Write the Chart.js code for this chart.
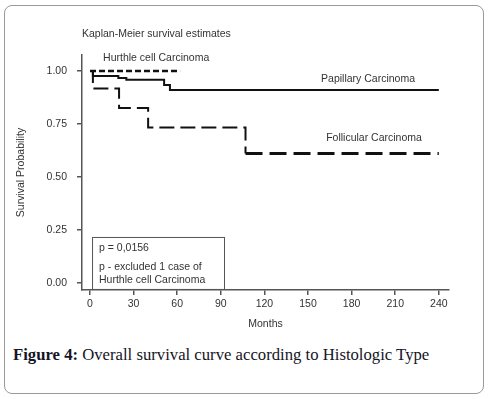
<!DOCTYPE html>
<html>
<head>
<meta charset="utf-8">
<script src="https://cdn.jsdelivr.net/npm/chart.js@4"></script>
<style>
  body { margin: 0; background: #fff; }
  #wrap { position: relative; width: 488px; height: 399px; overflow: hidden; }
  #frame { position: absolute; left: 4px; top: 5px; width: 478px; height: 387px; border: 1px solid #9a9a9a; border-radius: 8px; }
  #chart { position: absolute; left: 0; top: 0; }
  #caption { position: absolute; left: 13px; top: 345px; font: 16.7px "Liberation Serif", "Times New Roman", serif; color: #151525; white-space: nowrap; }
</style>
</head>
<body>
<div id="wrap">
  <div id="frame"></div>
  <canvas id="chart" width="488" height="340"></canvas>
  <div id="caption"><b>Figure 4:</b> Overall survival curve according to Histologic Type</div>
</div>
<script>
// tick labels
const monthTicks = [0, 30, 60, 90, 120, 150, 180, 210, 240];
const survTicks = [0, 0.25, 0.5, 0.75, 1];

// Kaplan-Meier steps (month, survival)
const hurthleMonths = [0, 62];
const hurthleSurv = [1, 1];
const papillaryMonths = [0, 2, 19.5, 25, 51, 55, 240];
const papillarySurv = [1, 0.976, 0.966, 0.958, 0.934, 0.910, 0.910];
const follicularMonths = [0, 2, 20, 40, 107, 240];
const follicularSurv = [1, 0.917, 0.825, 0.733, 0.611, 0.611];

const toPoints = (xs, ys) => xs.map((m, i) => ({ x: m, y: ys[i] }));

const FONT = '"Liberation Sans", Arial, sans-serif';
const INK = '#111';

const notes = {
  id: 'notes',
  afterDatasetsDraw(chart) {
    const { ctx, chartArea, scales: { x, y } } = chart;
    ctx.save();
    ctx.font = '10.5px ' + FONT;
    ctx.fillStyle = '#333';
    ctx.textBaseline = 'middle';
    ctx.fillText('Kaplan-Meier survival estimates', chartArea.left, chartArea.top - 21);
    ctx.fillText('Hurthle cell Carcinoma', x.getPixelForValue(9), y.getPixelForValue(1.061));
    ctx.fillText('Papillary Carcinoma', x.getPixelForValue(159), y.getPixelForValue(0.962));
    ctx.fillText('Follicular Carcinoma', x.getPixelForValue(162.5), y.getPixelForValue(0.684));

    // p-value box
    const bl = x.getPixelForValue(1.4), br = x.getPixelForValue(92.2);
    const bt = y.getPixelForValue(0.217), bb = y.getPixelForValue(-0.028);
    ctx.fillStyle = '#fff';
    ctx.fillRect(bl, bt, br - bl, bb - bt);
    ctx.strokeStyle = '#555';
    ctx.lineWidth = 1;
    ctx.strokeRect(bl + 0.5, bt + 0.5, br - bl, bb - bt);
    ctx.fillStyle = '#333';
    ctx.fillText('p = 0,0156', bl + 7, bt + 11);
    ctx.fillText('p - excluded 1 case of', bl + 7, bt + 30);
    ctx.fillText('Hurthle cell Carcinoma', bl + 7, bt + 43);
    ctx.restore();
  }
};

new Chart(document.getElementById('chart').getContext('2d'), {
  type: 'line',
  data: {
    datasets: [
      {
        label: 'Hurthle cell Carcinoma',
        data: toPoints(hurthleMonths, hurthleSurv),
        borderColor: INK, borderWidth: 2.5, borderDash: [6, 3],
        stepped: 'before', pointRadius: 0, fill: false
      },
      {
        label: 'Papillary Carcinoma',
        data: toPoints(papillaryMonths, papillarySurv),
        borderColor: INK, borderWidth: 2,
        stepped: 'before', pointRadius: 0, fill: false
      },
      {
        label: 'Follicular Carcinoma',
        data: toPoints(follicularMonths, follicularSurv),
        borderColor: INK, borderWidth: 2, borderDash: [15, 6],
        stepped: 'before', pointRadius: 0, fill: false,
        segment: {
          borderWidth: c => c.p0DataIndex >= 4 ? 3 : undefined,
          borderDash: c => c.p0DataIndex >= 4 ? [17, 7] : undefined
        }
      }
    ]
  },
  options: {
    responsive: false,
    animation: false,
    layout: { padding: { top: 55, right: 39, left: 0, bottom: 0 } },
    plugins: { legend: { display: false }, tooltip: { enabled: false } },
    scales: {
      x: {
        type: 'linear',
        min: -5.5, max: 247,
        afterBuildTicks: s => { s.ticks = monthTicks.map(v => ({ value: v })); },
        afterFit: s => { s.height = 50; },
        grid: { drawOnChartArea: false, tickLength: 5, color: '#555', lineWidth: 1.5 },
        border: { color: '#555', width: 1.5 },
        ticks: { padding: 3, color: '#333', font: { family: FONT, size: 10.5 }, callback: v => String(v), maxRotation: 0 },
        title: { display: true, text: 'Months', color: '#333', font: { family: FONT, size: 10.5 }, padding: { top: 10, bottom: 10 } }
      },
      y: {
        type: 'linear',
        min: -0.033, max: 1.075,
        afterBuildTicks: s => { s.ticks = survTicks.map(v => ({ value: v })); },
        afterFit: s => { s.width = 82; },
        grid: { drawOnChartArea: false, tickLength: 5, color: '#555', lineWidth: 1.5 },
        border: { color: '#555', width: 1.5 },
        ticks: { padding: 10, color: '#333', font: { family: FONT, size: 10.5 }, callback: v => v.toFixed(2) },
        title: { display: true, text: 'Survival Probability', color: '#333', font: { family: FONT, size: 10.5 }, padding: { top: 15, bottom: 15 } }
      }
    }
  },
  plugins: [notes]
});
</script>
</body>
</html>
